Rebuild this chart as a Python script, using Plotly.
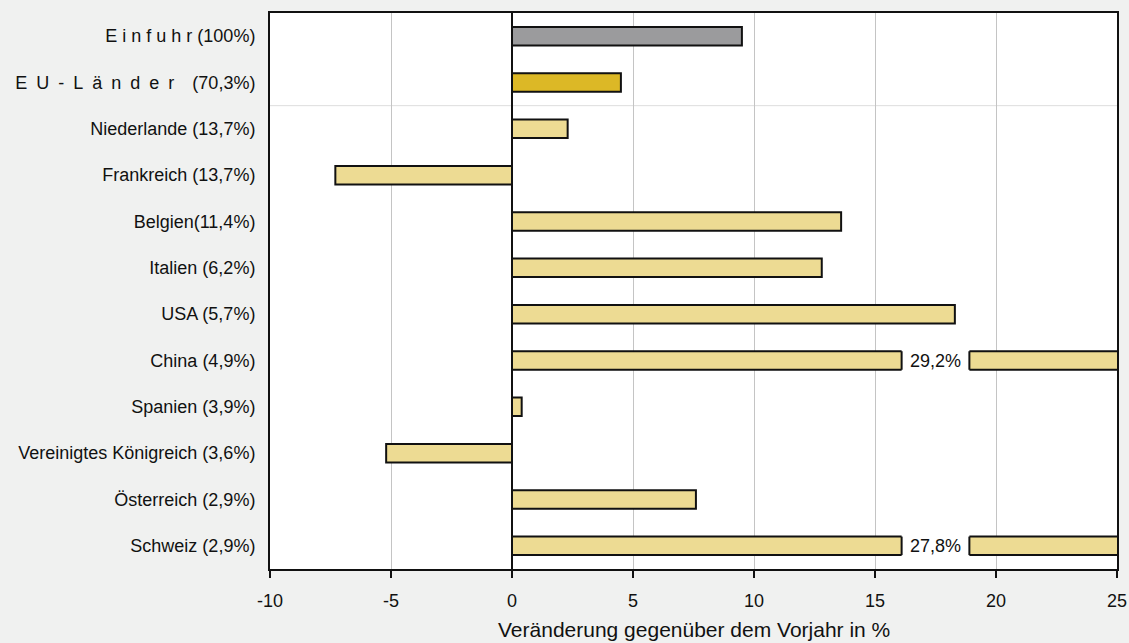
import plotly.graph_objects as go

# Import shares by origin and year-on-year change (%)
categories = [
    "E i n f u h r (100%)",
    "E\u2002U\u2002-\u2002L\u2002ä\u2002n\u2002d\u2002e\u2002r\u2002\u2002(70,3%)",
    "Niederlande (13,7%)",
    "Frankreich (13,7%)",
    "Belgien(11,4%)",
    "Italien (6,2%)",
    "USA (5,7%)",
    "China (4,9%)",
    "Spanien (3,9%)",
    "Vereinigtes Königreich (3,6%)",
    "Österreich (2,9%)",
    "Schweiz (2,9%)",
]
changes = [9.5, 4.5, 2.3, -7.3, 13.6, 12.8, 18.3, 29.2, 0.4, -5.2, 7.6, 27.8]
bar_colors = ["#9b9b9d", "#dcb826"] + ["#eddb93"] * 10

x_min, x_max = -10, 25
tick_vals = [-10, -5, 0, 5, 10, 15, 20, 25]
bar_width = 0.4

fig = go.Figure()
fig.add_trace(go.Bar(
    y=categories,
    x=changes,
    orientation="h",
    width=bar_width,
    marker=dict(color=bar_colors, line=dict(color="#111111", width=2)),
    hoverinfo="x+y",
))

shapes = []
annotations = []
# Bars that run past the axis end get a break with their value written inside
gap_lo, gap_hi = 16.1, 18.9
for i, (cat, v) in enumerate(zip(categories, changes)):
    if v > x_max:
        shapes.append(dict(type="rect", xref="x", yref="y",
                           x0=gap_lo, x1=gap_hi, y0=i - 0.26, y1=i + 0.26,
                           fillcolor="white", line=dict(width=0), layer="above"))
        for xe in (gap_lo, gap_hi):
            shapes.append(dict(type="line", xref="x", yref="y",
                               x0=xe, x1=xe, y0=i - bar_width / 2, y1=i + bar_width / 2,
                               line=dict(color="#111111", width=2), layer="above"))
        annotations.append(dict(x=(gap_lo + gap_hi) / 2, y=cat, xref="x", yref="y",
                                text=f"{v:.1f}%".replace(".", ","), showarrow=False,
                                font=dict(size=18, color="#111111")))

# Axis title
annotations.append(dict(x=0.5, y=-0.109, xref="paper", yref="paper",
                        text="Veränderung gegenüber dem Vorjahr in %", showarrow=False,
                        xanchor="center", yanchor="middle",
                        font=dict(size=21, color="#111111")))

# Separator between totals and individual countries
shapes.append(dict(type="line", xref="paper", yref="y", x0=0, x1=1, y0=1.5, y1=1.5,
                   line=dict(color="#dddddd", width=1), layer="below"))
# Zero line
shapes.append(dict(type="line", xref="x", yref="paper", x0=0, x1=0, y0=0, y1=1,
                   line=dict(color="#111111", width=2), layer="above"))

fig.update_layout(
    width=1129, height=643,
    margin=dict(l=270, r=12, t=13, b=74),
    paper_bgcolor="#f0f1f0",
    plot_bgcolor="white",
    font=dict(family="Liberation Sans, Arial, sans-serif", size=18, color="#111111"),
    showlegend=False,
    bargap=0.6,
    shapes=shapes,
    annotations=annotations,
    xaxis=dict(
        range=[x_min, x_max],
        tickvals=tick_vals,
        ticktext=[str(t) for t in tick_vals],
        ticks="outside", ticklen=7, tickwidth=2, tickcolor="#111111",
        ticklabelstandoff=7,
        showgrid=True, gridcolor="#c4c4c4", gridwidth=1,
        zeroline=False,
        showline=True, linecolor="#111111", linewidth=2, mirror=True,
        tickfont=dict(size=18),
        automargin=False,
        fixedrange=True,
    ),
    yaxis=dict(
        categoryorder="array", categoryarray=categories,
        autorange="reversed",
        showgrid=False, zeroline=False,
        showline=True, linecolor="#111111", linewidth=2, mirror=True,
        ticks="", ticklabelstandoff=9,
        tickfont=dict(size=18),
        automargin=False,
        fixedrange=True,
    ),
)

fig.write_html("out.html")
